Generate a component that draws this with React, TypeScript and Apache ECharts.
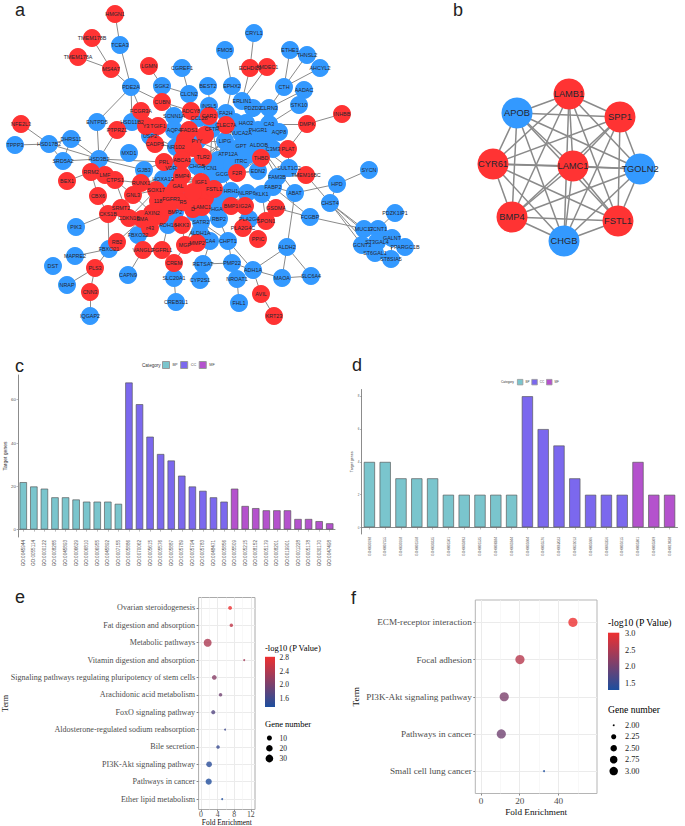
import React, { useEffect, useRef } from "react";
import * as echarts from "echarts";

const R = "#FF3333";
const B = "#3399FF";
const SANS = "'Liberation Sans', Arial, sans-serif";
const SERIF = "'Liberation Serif', 'Times New Roman', serif";

// Panel a: nodes [name, x, y]; names starting with "_" have no readable label in the picture
const redNodesA: [string, number, number][] = [
  ["HMGN1", 115, 14], ["TMEM178B", 92, 38], ["TMEM178A", 78, 57], ["MS4A7", 111, 69], ["LGMN", 149, 66],
  ["CUBN", 162, 102], ["FCGR3A", 141, 111], ["ADCY8", 191, 111], ["Y3", 146, 126], ["TGIF1", 158, 126], ["NFE2L3", 21, 124],
  ["PTPRZ1", 117, 130], ["CADPS", 155, 144], ["FADS1", 189, 130], ["CAR2", 209, 116], ["_r1", 185, 140], ["_r2", 193, 148],
  ["_r5", 205, 135], ["_r6", 183, 147], ["_r7", 175, 190], ["_r8", 165, 196], ["_r9", 205, 198], ["_r10", 190, 200], ["_r11", 160, 216],
  ["ECHDC3", 250, 68], ["AMDEC1", 267, 67], ["DMPK", 307, 124], ["INHBB", 342, 114], ["CLEC7A", 226, 125],
  ["PLAT", 288, 149], ["TLR2", 203, 157], ["THBD", 261, 158], ["ABCA1", 182, 160], ["PRL", 164, 162],
  ["TMEM16BC", 306, 175], ["F2R", 237, 173], ["IGF1", 201, 182], ["FSTL1", 214, 189], ["LAMC1", 202, 207],
  ["BMP1", 231, 206], ["IG2A", 245, 206], ["GSDMA", 276, 208], ["SPON1", 266, 221], ["PLA2G4C", 243, 228], ["PPIC", 258, 239],
  ["MMP2", 197, 243], ["RRM2", 91, 172], ["LMF", 105, 175], ["BEX1", 67, 181], ["CTPS1", 115, 180], ["RUNX1", 141, 183],
  ["BMP4", 182, 176], ["GAL", 178, 186], ["CBX6", 98, 196], ["GNL3", 133, 195], ["SOX17", 156, 190], ["SRMT2", 121, 208],
  ["AXIN2", 152, 213], ["CKS1B", 108, 214], ["CDKN1B", 129, 218], ["SMA", 142, 219], ["118", 158, 201], ["R5", 183, 202],
  ["D", 193, 209], ["_r3", 168, 207], ["_r4", 193, 192], ["HKK3", 182, 225], ["r43", 150, 228], ["RB2", 117, 242],
  ["VANGL2", 143, 250], ["FGFRL1", 162, 250], ["MGP", 185, 245], ["PLS3", 95, 268], ["CREM", 174, 263],
  ["CNN3", 90, 292], ["AVIL", 261, 294], ["KRT23", 274, 316],
];
const blueNodesA: [string, number, number][] = [
  ["TCEA3", 120, 45], ["CGREF1", 182, 68], ["SGK2", 162, 86], ["PDE2A", 131, 87], ["CLCN2", 189, 94],
  ["SCNN1A", 174, 116], ["ENTPD5", 97, 122], ["HSD11B2", 132, 122], ["TPPP3", 15, 145], ["HSD17B2", 49, 144],
  ["DHRS11", 71, 139], ["USP2", 150, 136], ["AQP4", 174, 130], ["NR1D2", 176, 147], ["MXD1", 129, 153],
  ["SRD5A2", 63, 161], ["HSD3B2", 99, 159], ["CRYL1", 254, 33], ["FMO5", 225, 50], ["ETHE1", 290, 50],
  ["THNSL2", 307, 55], ["AHCYL2", 320, 68], ["BEST2", 208, 86], ["EPHX2", 232, 86], ["CTH", 284, 87],
  ["AADAC", 304, 90], ["STK10", 299, 105], ["ERLIN1", 242, 101], ["INSL5", 209, 106], ["PDZD2", 253, 108],
  ["CLRN3", 269, 108], ["FA2H", 226, 113], ["CCL28", 199, 118], ["HAO2", 246, 123], ["CA3", 269, 124], ["PHGR1", 258, 130],
  ["AQP8", 279, 132], ["CFTR", 212, 129], ["NUCA2A", 241, 133], ["PYY", 197, 141], ["LIPG", 225, 141],
  ["GPT", 241, 146], ["ALDOB", 259, 145], ["C3M3", 273, 149], ["ATP12A", 228, 154], ["ITRC", 241, 161],
  ["CHGB", 197, 166], ["TCN1", 210, 168], ["SULT1C2", 289, 168], ["SYCN", 369, 170], ["EDN2", 258, 171],
  ["GCG", 222, 174], ["FAM3B", 277, 177], ["HPD", 337, 184], ["FABP2", 273, 187], ["ABAT", 295, 193],
  ["KLK1", 262, 194], ["NLRP6", 247, 193], ["HRH1", 231, 191], ["CHST4", 330, 203], ["HGA", 217, 209], ["FCGBP", 310, 217],
  ["PLA2G4", 249, 219], ["RBP2", 219, 219], ["SATR2", 201, 222], ["_b1", 195, 213], ["PDZK1IP1", 395, 213],
  ["GCNT1", 378, 229], ["MUC17", 364, 229], ["GALNT", 392, 238], ["ST3GAL4", 377, 242], ["GCNT3", 362, 245],
  ["PPARGC1B", 405, 247], ["ST6GAL1", 375, 253], ["ST8SIA5", 391, 259], ["ALDH1A", 200, 233], ["CA4", 210, 241],
  ["CHPT1", 228, 241], ["ALDH2", 287, 247], ["RETSAT", 203, 264], ["PMP22", 232, 263], ["ADH1A", 253, 270],
  ["NROAT1", 237, 279], ["SLC6A4", 311, 276], ["MAOA", 282, 278], ["CYP2S1", 200, 280], ["FHL1", 239, 303],
  ["GJB3", 144, 170], ["HOXA13", 163, 179], ["VDR", 171, 168], ["FGFR3", 171, 199], ["BMP2", 175, 212],
  ["RDH16", 168, 225], ["PIK3", 76, 227], ["FBXO32", 138, 235], ["FBXO21", 109, 249], ["MAPRE2", 75, 256],
  ["DST", 53, 266], ["CAPN9", 128, 275], ["SLC20A1", 174, 278], ["NRAP", 67, 285], ["CREB3L1", 176, 302], ["IQGAP2", 90, 316],
  ["_b2", 190, 197], ["_b3", 207, 197], ["_b4", 215, 177], ["_b5", 218, 160], ["_b6", 248, 155], ["_b7", 232, 165],
  ["_b8", 250, 140], ["_b9", 235, 122], ["_b10", 268, 138], ["_b11", 221, 199],
];
const outerLinksA = [
  "HMGN1-TCEA3", "TCEA3-PDE2A", "TMEM178B-MS4A7", "TMEM178A-MS4A7", "MS4A7-PDE2A", "LGMN-SGK2", "SGK2-CLCN2", "SGK2-CUBN",
  "CGREF1-CLCN2", "PDE2A-CUBN", "PDE2A-FCGR3A", "PDE2A-ENTPD5", "ENTPD5-HSD3B2", "PTPRZ1-HSD3B2", "HSD17B2-NFE2L3",
  "TPPP3-HSD17B2", "HSD17B2-DHRS11", "HSD17B2-SRD5A2", "HSD17B2-HSD3B2", "DHRS11-HSD3B2", "SRD5A2-HSD3B2", "DHRS11-SRD5A2",
  "CRYL1-ECHDC3", "FMO5-EPHX2", "ECHDC3-ERLIN1", "AMDEC1-ERLIN1", "ETHE1-CTH", "THNSL2-CTH", "AHCYL2-CTH", "CTH-CLRN3",
  "AADAC-CLRN3", "STK10-CA3", "EPHX2-FA2H", "DMPK-INHBB", "DMPK-CA3", "DMPK-PLAT", "ABAT-ALDH2", "ABAT-HPD", "HPD-SYCN",
  "TMEM16BC-CHST4", "TMEM16BC-FAM3B", "HPD-CHST4", "CHST4-MUC17", "CHST4-GCNT3", "CHST4-ST3GAL4", "CHST4-ST6GAL1", "PDZK1IP1-GCNT1",
  "FCGBP-MUC17", "FABP2-FCGBP", "ALDH2-ADH1A", "ALDH2-MAOA", "ALDH2-SLC6A4", "ADH1A-MAOA", "MAOA-SLC6A4", "ADH1A-PMP22",
  "ADH1A-CHPT1", "AVIL-ADH1A", "AVIL-KRT23", "NROAT1-FHL1", "RETSAT-PMP22", "CREM-SLC20A1", "SLC20A1-CREB3L1", "PLS3-CNN3",
  "PLS3-NRAP", "CNN3-IQGAP2", "PLS3-FBXO21", "MAPRE2-FBXO21", "FBXO21-RB2", "CKS1B-PIK3", "CKS1B-FBXO21", "CKS1B-CBX6",
  "CBX6-RRM2", "BEX1-RRM2", "CAPN9-VANGL2", "FBXO32-VANGL2", "FGFRL1-RDH16", "CKS1B-GNL3", "RRM2-CTPS1", "CTPS1-RUNX1",
  "CTPS1-GNL3", "HSD3B2-GJB3", "HSD3B2-PRL", "CADPS-USP2", "PDE2A-HSD11B2", "CUBN-ADCY8", "CLCN2-ADCY8", "MUC17-GCNT1",
  "MUC17-GALNT", "GCNT1-ST3GAL4", "GALNT-ST8SIA5", "ST3GAL4-PPARGC1B", "GCNT3-ST6GAL1", "ST6GAL1-ST8SIA5", "GCNT1-GALNT",
  "KLK1-GSDMA", "KLK1-SPON1", "SULT1C2-PLAT", "CLRN3-PHGR1", "GSDMA-FCGBP", "CHPT1-PMP22", "CHPT1-SATR2", "CA4-RETSAT",
  "CREM-MGP", "ABAT-FABP2", "PMP22-NROAT1", "RETSAT-CYP2S1", "BEST2-CFTR", "EPHX2-ERLIN1", "INSL5-FA2H", "SGK2-SCNN1A",
  "CTPS1-CDKN1B", "SOX17-CDKN1B", "GNL3-SOX17", "GNL3-AXIN2", "FBXO32-AXIN2", "CKS1B-AXIN2", "RB2-SMA", "RUNX1-SOX17",
];
const centreLinksA = [
  "IGF1-FSTL1", "IGF1-LAMC1", "IGF1-BMP4", "IGF1-GCG", "IGF1-F2R", "IGF1-CHGB", "IGF1-PYY", "IGF1-TLR2", "IGF1-HRH1", "IGF1-RUNX1",
  "IGF1-FGFR3", "IGF1-HOXA13", "IGF1-VDR", "IGF1-ABCA1", "IGF1-TCN1", "GCG-PYY", "GCG-CHGB", "GCG-TLR2", "GCG-TCN1", "GCG-F2R",
  "GCG-EDN2", "GCG-HRH1", "GCG-LIPG", "GCG-ATP12A", "GCG-GPT", "GCG-CFTR", "GCG-PHGR1", "F2R-EDN2", "F2R-ATP12A", "F2R-ALDOB", "F2R-CHGB",
  "F2R-TLR2", "F2R-THBD", "ATP12A-LIPG", "ATP12A-GPT", "ATP12A-CHGB", "ATP12A-PYY", "ATP12A-TLR2", "ATP12A-TCN1", "ATP12A-ITRC",
  "PYY-LIPG", "PYY-TLR2", "PYY-TCN1", "PYY-CFTR", "TLR2-LIPG", "TLR2-TCN1", "TCN1-LIPG", "TCN1-CFTR", "CHGB-LIPG", "CHGB-PYY",
  "ALDOB-GPT", "ALDOB-PHGR1", "ALDOB-C3M3", "ALDOB-NUCA2A", "ALDOB-HAO2", "ALDOB-THBD", "ALDOB-CLRN3", "PHGR1-CA3", "PHGR1-HAO2",
  "PHGR1-CLRN3", "GPT-NUCA2A", "GPT-HAO2", "EDN2-THBD", "EDN2-ALDOB", "SULT1C2-ALDOB", "FAM3B-ALDOB", "ABAT-ALDOB",
  "LAMC1-BMP1", "LAMC1-IG2A", "LAMC1-HGA", "LAMC1-RBP2", "LAMC1-FSTL1", "LAMC1-BMP2", "LAMC1-MGP", "LAMC1-MMP2", "LAMC1-KLK1",
  "BMP4-FGFR3", "BMP4-BMP2", "BMP4-FSTL1", "BMP4-HOXA13", "BMP2-FGFR3", "BMP2-AXIN2", "BMP2-RUNX1", "BMP2-HKK3", "BMP2-FSTL1",
  "FGFR3-118", "FGFR3-SOX17", "FGFR3-R5", "FGFR3-D", "118-AXIN2", "SMA-BMP2", "SMA-R5", "AXIN2-R5", "AXIN2-BMP4", "RUNX1-FGFR3",
  "RUNX1-HOXA13", "VDR-ABCA1", "VDR-HOXA13", "PRL-VDR", "PRL-ABCA1", "NR1D2-VDR", "NR1D2-AQP4", "SCNN1A-AQP4", "SCNN1A-CUBN",
  "TGIF1-USP2", "HSD11B2-TGIF1", "USP2-NR1D2", "CADPS-NR1D2", "PRL-GJB3", "HGA-RBP2", "RBP2-SATR2", "RBP2-CHPT1", "HGA-HRH1",
  "HRH1-FSTL1", "HRH1-BMP1", "NLRP6-HRH1", "NLRP6-KLK1", "PLA2G4-BMP1", "PLA2G4-PLA2G4C", "MMP2-MGP", "HKK3-MGP", "RDH16-HKK3",
  "ALDH1A-CA4", "CA4-CHPT1", "ALDH1A-SATR2", "FCGR3A-HSD11B2", "FCGR3A-TGIF1", "FADS1-AQP4", "FADS1-PYY", "CCL28-CAR2", "CFTR-LIPG",
];

// Panel b
const redNodesB: [string, number, number][] = [
  ["LAMB1", 569, 94], ["SPP1", 620, 117], ["LAMC1", 573, 166], ["CYR61", 493, 164], ["BMP4", 512, 217], ["FSTL1", 618, 221],
];
const blueNodesB: [string, number, number][] = [["APOB", 517, 113], ["CHGB", 564, 241], ["TGOLN2", 640, 169]];

// Panel c
const goC = [
  "GO:0045944", "GO:0055114", "GO:0000122", "GO:0008285", "GO:0045893", "GO:0006629", "GO:0006810", "GO:0006955", "GO:0045892", "GO:0007155",
  "GO:0005886", "GO:0070062", "GO:0005615", "GO:0005576", "GO:0005887", "GO:0005789", "GO:0005794", "GO:0005783", "GO:0048471", "GO:0005856",
  "GO:0005509", "GO:0005215", "GO:0008152", "GO:0005179", "GO:0008201", "GO:0019901", "GO:0001228", "GO:0005178", "GO:0030170", "GO:0047498",
];
const bpC = [22, 20, 19, 15, 15, 14, 13, 13, 13, 12];
const ccC = [68, 58, 43, 35, 32, 25, 20, 18, 15, 13];
const mfC = [19, 11, 10, 9, 9, 9, 5, 5, 4, 3];
const yTicksC = [0, 20, 40, 60];

// Panel d
const goD = [
  "GO:0030198", "GO:0007155", "GO:0030168", "GO:0001568", "GO:0030335", "GO:0001501", "GO:0045893", "GO:0001525", "GO:0008284", "GO:0045944",
  "GO:0005604", "GO:0005576", "GO:0062023", "GO:0031012", "GO:0005606", "GO:0043256", "GO:0005615",
  "GO:0005201", "GO:0005509", "GO:0019838",
];
const bpD = [4, 4, 3, 3, 3, 2, 2, 2, 2, 2];
const ccD = [8, 6, 5, 3, 2, 2, 2];
const mfD = [4, 2, 2];
const yTicksD = [0, 2, 4, 6, 8];

// Panel e
const termsE = [
  "Ovarian steroidogenesis", "Fat digestion and absorption", "Metabolic pathways", "Vitamin digestion and absorption",
  "Signaling pathways regulating pluripotency of stem cells", "Arachidonic acid metabolism", "FoxO signaling pathway",
  "Aldosterone-regulated sodium reabsorption", "Bile secretion", "PI3K-Akt signaling pathway", "Pathways in cancer", "Ether lipid metabolism",
];
const foldE = [7.0, 7.3, 1.6, 10.4, 3.2, 4.7, 2.95, 5.8, 4.1, 1.95, 1.85, 5.1];
const pE = [2.8, 2.5, 2.35, 2.3, 2.1, 1.95, 1.75, 1.6, 1.55, 1.45, 1.4, 1.38];
const genesE = [5, 4, 33, 2, 8, 4, 6, 2, 4, 14, 17, 2];
const pTicksE = [2.8, 2.4, 2.0, 1.6];
const geneKeyE = [10, 20, 30];

// Panel f
const termsF = ["ECM-receptor interaction", "Focal adhesion", "PI3K-Akt signaling pathway", "Pathways in cancer", "Small cell lung cancer"];
const foldF = [47.4, 20.1, 12, 10.5, 32.5];
const pF = [3.0, 2.55, 2.05, 1.95, 1.25];
const genesF = [3, 3, 3, 3, 2];
const pTicksF = [3.0, 2.5, 2.0, 1.5];
const geneKeyF = [2.0, 2.25, 2.5, 2.75, 3.0];

const BP = "#7AC5CD";
const CC = "#7B68EE";
const MF = "#B452CD";
const LOW = "#1D4E9E";
const HIGH = "#EE3030";
const sizeE = (n: number) => 2 + Math.sqrt((n - 2) / 31) * 6;
const sizeF = (n: number) => 2 + Math.sqrt(n - 2) * 7.2;

const nodes = (list: [string, number, number][], color: string) =>
  list.map(([name, x, y]) => ({
    name,
    value: [x, y],
    itemStyle: { color },
    label: { show: !name.startsWith("_") },
  }));

function barSeries(name: string, color: string, values: number[], offset: number, total: number, axis: number) {
  const data: (number | null)[] = new Array(total).fill(null);
  values.forEach((v, i) => (data[offset + i] = v));
  return {
    type: "bar", name, data, xAxisIndex: axis, yAxisIndex: axis, barGap: "-100%", barWidth: "73%",
    itemStyle: { color, borderColor: "rgba(85,85,85,0.65)", borderWidth: 1 },
    silent: true,
  };
}

function txt(text: string | number, x: number, y: number, fontSize: number, fontFamily: string, fill = "#000", extra: object = {}) {
  return { type: "text", x, y, silent: true, style: { text: String(text), fontSize, fontFamily, fill, verticalAlign: "middle", align: "left", ...extra } };
}

function buildOption() {
  const graphCommon = {
    type: "graph", coordinateSystem: "cartesian2d", xAxisIndex: 0, yAxisIndex: 0, layout: "none", roam: false, silent: true,
    symbol: "circle", edgeSymbol: ["none", "none"], emphasis: { disabled: true },
    label: { show: true, position: "inside", formatter: "{b}", fontFamily: SANS, color: "#26262e" },
  };
  const linksB: { source: string; target: string }[] = [];
  const namesB = [...redNodesB, ...blueNodesB].map((n) => n[0]);
  namesB.forEach((a, i) => namesB.slice(i + 1).forEach((b) => linksB.push({ source: a, target: b })));

  const bandAxis = (gridIndex: number, data: string[], fontSize: number) => ({
    type: "category", gridIndex, data, boundaryGap: true,
    axisLine: { lineStyle: { color: "#8c8c8c", width: 1 } },
    axisTick: { show: true, length: 2, alignWithLabel: true, lineStyle: { color: "#777", width: 0.5 } },
    axisLabel: { rotate: 90, interval: 0, fontSize, fontFamily: SANS, color: "#555", margin: 3 },
  });
  const countAxis = (gridIndex: number, min: number, max: number, ticks: number[], fontSize: number, nameGap: number) => ({
    type: "value", gridIndex, min, max, name: "Target genes", nameLocation: "middle", nameGap,
    nameTextStyle: { fontSize: fontSize + 0.6, fontFamily: SANS, color: "#333" },
    axisLine: { show: true, onZero: false, lineStyle: { color: "#8c8c8c", width: 1 } },
    axisTick: { show: true, length: 1.5, customValues: ticks, lineStyle: { color: "#777", width: 0.5 } },
    axisLabel: { customValues: ticks, fontSize, fontFamily: SANS, color: "#555", margin: 2 },
    splitLine: { show: false },
  });
  const foldAxis = (gridIndex: number, min: number, max: number, ticks: number[], fontSize: number, nameGap: number, nameSize: number, margin: number) => ({
    type: "value", gridIndex, min, max, name: "Fold Enrichment", nameLocation: "middle", nameGap,
    nameTextStyle: { fontSize: nameSize, fontFamily: SERIF, color: "#111" },
    axisLine: { show: false, onZero: false },
    axisTick: { show: true, length: 2, customValues: ticks, lineStyle: { color: "#555", width: 0.7 } },
    axisLabel: { customValues: ticks, fontSize, fontFamily: SERIF, color: "#4d4d4d", margin },
    splitLine: { show: true, lineStyle: { color: "#ebebeb", width: 1 } },
  });
  const minorAxis = (gridIndex: number, min: number, max: number, ticks: number[]) => ({
    type: "value", gridIndex, min, max, show: true,
    axisLine: { show: false, onZero: false }, axisLabel: { show: false },
    axisTick: { show: false, customValues: ticks },
    splitLine: { show: true, lineStyle: { color: "#f4f4f4", width: 0.6 } },
  });
  const termAxis = (gridIndex: number, terms: string[], fontSize: number, nameGap: number) => {
    const idx = terms.map((_, i) => i);
    return {
      type: "value", gridIndex, min: -0.6, max: terms.length - 0.4, inverse: true,
      name: "Term", nameLocation: "middle", nameGap, nameMoveOverlap: false,
      nameTextStyle: { fontSize, fontFamily: SERIF, color: "#111" },
      axisLine: { show: false, onZero: false },
      axisTick: { show: true, length: 2, customValues: idx, lineStyle: { color: "#555", width: 0.7 } },
      axisLabel: { customValues: idx, formatter: (v: number) => terms[v] ?? "", fontSize, fontFamily: SERIF, color: "#4d4d4d", margin: 3.5 },
      splitLine: { show: true, lineStyle: { color: "#ebebeb", width: 1 } },
    };
  };
  const bar = (x: number, top: number, w: number, h: number) => ({
    type: "rect", silent: true, shape: { x, y: top, width: w, height: h },
    style: { fill: new echarts.graphic.LinearGradient(0, 0, 0, 1, [{ offset: 0, color: HIGH }, { offset: 1, color: LOW }]) },
  });
  const pY = (p: number, topV: number, top: number, pxPerUnit: number) => top + (topV - p) * pxPerUnit;
  const dot = (cx: number, cy: number, d: number) => ({
    type: "circle", silent: true, shape: { cx, cy, r: d / 2 }, style: { fill: "#000" },
  });

  const graphic: object[] = [
    txt("a", 15, 10, 18, SANS, "#222"), txt("b", 453, 10, 18, SANS, "#222"),
    txt("c", 15, 366, 18, SANS, "#222"), txt("d", 352, 365, 18, SANS, "#222"),
    txt("e", 15, 597, 18, SANS, "#222"), txt("f", 351, 598, 18, SANS, "#222"),
    txt("Category", 142, 365, 4.6, SANS, "#333"), txt("Category", 501, 382, 3.2, SANS, "#333"),
    // panel e keys
    txt("-log10 (P Value)", 265, 648, 8.5, SERIF),
    bar(265, 656.8, 10, 50.2),
    ...pTicksE.map((p) => txt(p.toFixed(1), 279.5, pY(p, 2.81, 656.8, 34.7), 7.5, SERIF, "#222")),
    txt("Gene number", 265, 724.4, 8.5, SERIF),
    ...geneKeyE.flatMap((n, i) => [dot(269.4, 738 + i * 10.25, sizeE(n)), txt(n, 279.5, 738 + i * 10.25, 7.5, SERIF, "#222")]),
    // panel f keys
    txt("-log10 (P Value)", 608, 622.7, 9.7, SERIF),
    bar(608, 632.7, 11.3, 57.3),
    ...pTicksF.map((p) => txt(p.toFixed(1), 625, pY(p, 3.02, 632.7, 33.5), 8.3, SERIF, "#222")),
    txt("Gene number", 608, 709.3, 9.6, SERIF),
    ...geneKeyF.flatMap((n, i) => [dot(613.7, 725.3 + i * 11.45, sizeF(n) * 0.92), txt(n.toFixed(2), 625, 725.3 + i * 11.45, 8.3, SERIF, "#222")]),
  ];

  return {
    animation: false,
    backgroundColor: "#fff",
    grid: [
      { left: 0, top: 0, width: 685, height: 826, outerBoundsMode: "none" },
      { left: 18, top: 375, width: 317, height: 162, outerBoundsMode: "none" },
      { left: 361.5, top: 389.5, width: 316, height: 144.5, outerBoundsMode: "none" },
      { left: 198.6, top: 597.5, width: 56.4, height: 212, show: true, borderColor: "#aaa", borderWidth: 1, backgroundColor: "#fff", outerBoundsMode: "none" },
      { left: 475.3, top: 600, width: 121.7, height: 193.5, show: true, borderColor: "#b5b5b5", borderWidth: 1, backgroundColor: "#fff", outerBoundsMode: "none" },
    ],
    xAxis: [
      { type: "value", gridIndex: 0, min: 0, max: 685, show: false },
      bandAxis(1, goC, 4.6),
      bandAxis(2, goD, 3.3),
      foldAxis(3, -0.58, 13, [0, 4, 8, 12], 7.8, 7, 7.4, 1),
      foldAxis(4, -2.9, 59.8, [0, 20, 40], 9.2, 14, 9.2, 3),
      minorAxis(3, -0.58, 13, [2, 6, 10]),
      minorAxis(4, -2.9, 59.8, [10, 30, 50]),
    ],
    yAxis: [
      { type: "value", gridIndex: 0, min: 0, max: 826, inverse: true, show: false },
      countAxis(1, -3.4, 71.4, yTicksC, 4.4, 9),
      countAxis(2, -0.4, 8.4, yTicksD, 3, 6),
      termAxis(3, termsE, 8.1, 189.5),
      termAxis(4, termsF, 9.2, 115),
    ],
    legend: [
      {
        left: 162, top: 361, data: ["BP", "CC", "MF"], selectedMode: false, itemWidth: 7, itemHeight: 7, itemGap: 2.6, padding: 0,
        textStyle: { fontSize: 3.8, fontFamily: SANS, color: "#444", padding: [0, 0, 0, -2] },
        itemStyle: { borderColor: "#999", borderWidth: 1 }, icon: "rect",
      },
      {
        left: 517, top: 379, data: ["BP", "CC", "MF"], selectedMode: false, itemWidth: 5.5, itemHeight: 5.5, itemGap: 2, padding: 0,
        textStyle: { fontSize: 3, fontFamily: SANS, color: "#444", padding: [0, 0, 0, -2.5] },
        itemStyle: { borderColor: "#999", borderWidth: 0.8 }, icon: "rect",
      },
    ],
    visualMap: [
      { show: false, type: "continuous", seriesIndex: 8, dimension: 2, min: 1.37, max: 2.81, inRange: { color: [LOW, HIGH] } },
      { show: false, type: "continuous", seriesIndex: 9, dimension: 2, min: 1.25, max: 3.02, inRange: { color: [LOW, HIGH] } },
    ],
    series: [
      {
        ...graphCommon, name: "network a", symbolSize: 18,
        data: [...nodes(blueNodesA, B), ...nodes(redNodesA, R)],
        links: [...outerLinksA, ...centreLinksA].map((l) => {
          const [source, target] = l.split("-");
          return { source, target };
        }),
        lineStyle: { color: "#8a8a8a", width: 1, opacity: 1, curveness: 0 },
        label: { ...graphCommon.label, fontSize: 5.4 },
      },
      {
        ...graphCommon, name: "network b", symbolSize: 31,
        data: [...nodes(redNodesB, R), ...nodes(blueNodesB, B)],
        links: linksB,
        lineStyle: { color: "#8a8a8a", width: 1.5, opacity: 1, curveness: 0 },
        label: { ...graphCommon.label, fontSize: 9.3 },
      },
      barSeries("BP", BP, bpC, 0, goC.length, 1),
      barSeries("CC", CC, ccC, bpC.length, goC.length, 1),
      barSeries("MF", MF, mfC, bpC.length + ccC.length, goC.length, 1),
      barSeries("BP", BP, bpD, 0, goD.length, 2),
      barSeries("CC", CC, ccD, bpD.length, goD.length, 2),
      barSeries("MF", MF, mfD, bpD.length + ccD.length, goD.length, 2),
      {
        type: "scatter", name: "enrichment e", xAxisIndex: 3, yAxisIndex: 3, silent: true, z: 5,
        data: termsE.map((_, i) => [foldE[i], i, pE[i], genesE[i]]),
        symbolSize: (d: number[]) => sizeE(d[3]),
      },
      {
        type: "scatter", name: "enrichment f", xAxisIndex: 4, yAxisIndex: 4, silent: true, z: 5,
        data: termsF.map((_, i) => [foldF[i], i, pF[i], genesF[i]]),
        symbolSize: (d: number[]) => sizeF(d[3]),
      },
    ],
    graphic,
  };
}

export default function App() {
  const ref = useRef<HTMLDivElement>(null);
  useEffect(() => {
    const chart = echarts.init(ref.current!, undefined, { renderer: "svg" });
    chart.setOption(buildOption() as any);
    return () => chart.dispose();
  }, []);
  return <div ref={ref} style={{ position: "absolute", left: 0, top: 0, width: 685, height: 826 }} />;
}
